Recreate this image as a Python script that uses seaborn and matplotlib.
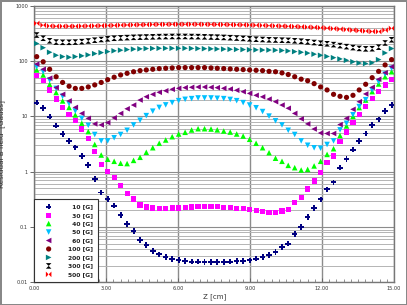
import numpy as np
import matplotlib
matplotlib.use("Agg")
import matplotlib.pyplot as plt
import seaborn as sns
from matplotlib.ticker import FixedLocator, NullFormatter, MultipleLocator

# position along the axis [cm]
Z = [0.10, 0.37, 0.64, 0.91, 1.18, 1.45, 1.71, 1.98, 2.25, 2.52, 2.79, 3.06, 3.33, 3.60,
     3.87, 4.14, 4.41, 4.67, 4.94, 5.21, 5.48, 5.75, 6.02, 6.29, 6.56, 6.83, 7.10, 7.37,
     7.63, 7.90, 8.17, 8.44, 8.71, 8.98, 9.25, 9.52, 9.79, 10.06, 10.33, 10.59, 10.86, 11.13,
     11.40, 11.67, 11.94, 12.21, 12.48, 12.75, 13.02, 13.29, 13.55, 13.82, 14.09, 14.36, 14.63, 14.90]

# residual field [Gauss] for each applied field
B10 = [17.7, 14.3, 9.9, 6.8, 4.8, 3.6, 2.75, 1.94, 1.32, 0.74,
       0.42, 0.32, 0.243, 0.165, 0.112, 0.085, 0.058, 0.047, 0.037, 0.032,
       0.029, 0.0264, 0.0253, 0.0243, 0.0236, 0.0236, 0.0233, 0.0233, 0.0233, 0.0233,
       0.0236, 0.0243, 0.0243, 0.025, 0.0267, 0.0284, 0.031, 0.035, 0.043, 0.050,
       0.074, 0.10, 0.152, 0.218, 0.316, 0.48, 0.64, 1.18, 1.70, 2.5,
       3.6, 4.9, 7.0, 8.8, 12.6, 16.0]
B30 = [54, 44, 30, 20.6, 14.6, 10.9, 8.3, 5.9, 4.0, 2.3,
       1.35, 1.0, 0.78, 0.56, 0.40, 0.32, 0.25, 0.23, 0.22, 0.213,
       0.215, 0.22, 0.22, 0.226, 0.23, 0.232, 0.232, 0.232, 0.232, 0.226,
       0.222, 0.218, 0.213, 0.205, 0.197, 0.19, 0.185, 0.182, 0.195, 0.21,
       0.275, 0.34, 0.485, 0.68, 0.96, 1.45, 1.92, 3.5, 5.2, 7.8,
       10.9, 15, 21, 28, 37, 47]
B40 = [69, 56, 38, 27, 19, 14.5, 10.6, 7.5, 5.3, 3.1,
       2.0, 1.68, 1.54, 1.42, 1.40, 1.6, 1.82, 2.24, 2.71, 3.26,
       3.74, 4.29, 4.8, 5.15, 5.67, 5.98, 5.98, 5.9, 5.7, 5.43,
       5.2, 4.8, 4.4, 3.85, 3.26, 2.71, 2.2, 1.75, 1.54, 1.30,
       1.18, 1.07, 1.10, 1.27, 1.54, 2.05, 2.6, 4.5, 6.7, 10,
       14.4, 19.7, 28, 38.5, 52, 64]
B50 = [79, 64, 45, 32, 23, 17, 12.5, 9.2, 6.9, 4.7,
       3.6, 3.6, 4.1, 4.7, 5.6, 7.0, 8.5, 10.3, 12.4, 14.5,
       16.1, 17.7, 19.2, 20.3, 20.9, 21.5, 21.5, 21.5, 21.2, 20.9,
       20.2, 19.2, 17.7, 16, 14.3, 12.2, 10.1, 8.3, 7.0, 5.6,
       4.7, 3.6, 3.0, 2.7, 2.65, 3.1, 3.6, 5.7, 7.5, 10.7,
       15, 20, 30, 42, 58, 74]
B60 = [88, 71, 49, 33, 25, 19, 14.5, 11.3, 9.2, 7.3,
       7.0, 7.7, 9.4, 11.3, 13.7, 16, 19.7, 22.6, 25, 27.2,
       29, 30.8, 32.1, 33, 33.5, 33.9, 33.9, 33.5, 33, 32.1,
       31.2, 29.6, 27.9, 26, 24, 22.5, 20.5, 18.4, 16, 14,
       11.3, 9.0, 7.3, 5.9, 5.0, 4.9, 4.9, 7.1, 9.2, 13.4,
       18.4, 25.4, 33.5, 46.8, 61.5, 79]
B100 = [120, 97, 71, 52, 41, 35, 32, 32, 34, 37,
        41, 46, 51, 56, 60, 64, 67, 69, 71, 73,
        74, 75, 76, 76, 76, 76, 76, 75, 74, 73,
        72, 71, 70, 69, 68, 67, 65, 64, 61, 57,
        52, 47, 44, 39, 34, 30, 25, 23, 22, 24,
        30, 38, 50, 65, 85, 106]
B200 = [207, 174, 144, 127, 120, 117, 120, 124, 129, 136,
        142, 148, 153, 157, 161, 164, 166, 168, 169, 170,
        170, 170, 170, 170, 169, 168, 167, 166, 165, 164,
        163, 162, 161, 160, 159, 158, 158, 157, 155, 152,
        148, 144, 139, 133, 127, 121, 115, 109, 103, 97,
        92, 90, 93, 106, 140, 168]
B300 = [295, 258, 232, 220, 218, 218, 220, 224, 230, 238,
        245, 252, 258, 262, 265, 268, 270, 272, 274, 276,
        277, 278, 278, 278, 277, 276, 274, 272, 270, 267,
        264, 260, 256, 252, 248, 245, 242, 240, 238, 236,
        232, 228, 222, 216, 210, 205, 198, 190, 182, 175,
        169, 166, 167, 178, 212, 242]
B500 = [480, 445, 430, 425, 425, 425, 425, 428, 430, 432,
        435, 438, 440, 445, 448, 450, 452, 455, 458, 460,
        460, 462, 462, 462, 462, 462, 460, 460, 458, 456,
        454, 452, 450, 447, 444, 440, 436, 432, 428, 424,
        420, 415, 410, 405, 400, 393, 385, 377, 370, 362,
        355, 348, 342, 340, 362, 390]

LABELS = ["10 [G]", "30 [G]", "40 [G]", "50 [G]", "60 [G]",
          "100 [G]", "200 [G]", "300 [G]", "500 [G]"]
SERIES = [B10, B30, B40, B50, B60, B100, B200, B300, B500]
COLORS = ["#000080", "#ff00ff", "#00ff00", "#00c0ff", "#800080",
          "#800000", "#008080", "#000000", "#ff0000"]
HOURGLASS = [(-1, 1), (1, 1), (-1, -1), (1, -1)]
BOWTIE = [(-1, 1), (-1, -1), (1, 1), (1, -1)]
MARKERS = ["P", "s", "^", "v", "<", "o", ">", HOURGLASS, BOWTIE]
SIZES = [16, 14, 16, 16, 16, 14, 16, 16, 16]

sns.set_theme(style="white")
plt.rcParams["font.family"] = ["DejaVu Sans"]

fig = plt.figure(figsize=(4.07, 3.05), dpi=100, facecolor="white",
                 edgecolor="#888888", linewidth=1.0)
ax = fig.add_axes([0.0843, 0.0744, 0.8837, 0.9069])

for vals, lab, col, mk, sz in zip(SERIES, LABELS, COLORS, MARKERS, SIZES):
    sns.scatterplot(x=Z, y=vals, ax=ax, color=col, marker=mk, s=sz,
                    linewidth=0, edgecolor="none",
                    label=lab.rjust(7, "\u2007"), legend=False, zorder=3)

ax.set_yscale("log")
ax.set_ylim(0.01, 1000)
ax.set_xlim(0, 15)

ax.set_yticks([0.01, 0.1, 1, 10, 100, 1000])
ax.set_yticklabels(["0.01", "0.1", "1", "10", "100", "1000"])
minor_y = [m * 10.0 ** e for e in range(-2, 3) for m in range(2, 10)]
ax.yaxis.set_minor_locator(FixedLocator(minor_y))
ax.yaxis.set_minor_formatter(NullFormatter())

ax.set_xticks([0, 3, 6, 9, 12, 15])
ax.set_xticklabels(["0.00", "3.00", "6.00", "9.00", "12.00", "15.00"])
ax.xaxis.set_minor_locator(MultipleLocator(0.3))

ax.grid(which="major", axis="y", color="#8c8c8c", linewidth=0.8)
ax.grid(which="minor", axis="y", color="#b4b4b4", linewidth=0.7)
ax.grid(which="major", axis="x", color="#8c8c8c", linewidth=1.0)
ax.set_axisbelow(True)

ax.tick_params(axis="y", which="major", left=True, direction="out", length=3,
               width=0.7, color="#666666", labelsize=3.6, pad=1.5, labelcolor="#333333")
ax.tick_params(axis="y", which="minor", left=False)
ax.tick_params(axis="x", which="major", bottom=True, direction="in", length=3,
               width=0.7, color="#666666", labelsize=3.6, pad=2.5, labelcolor="#333333")
ax.tick_params(axis="x", which="minor", bottom=True, direction="in", length=2,
               width=0.5, color="#666666")

for sp in ax.spines.values():
    sp.set_color("#777777")
    sp.set_linewidth(1.0)

ax.set_xlabel("Z [cm]", fontsize=5, color="#333333", labelpad=2)
ax.set_ylabel("Residual B field  [Gauss]", fontsize=5.2, color="#333333", labelpad=7)

leg = ax.legend(loc="lower left", bbox_to_anchor=(0, 0), borderaxespad=0,
                frameon=True, fancybox=False, framealpha=1, edgecolor="#333333",
                prop={"weight": "bold", "size": 4.3}, labelspacing=0.55,
                handlelength=3.0, handletextpad=1.7, borderpad=0.9, markerscale=1.0)
leg.get_frame().set_linewidth(0.8)
for t in leg.get_texts():
    t.set_color("#222222")

plt.savefig("out.png", dpi=100)
plt.close()
